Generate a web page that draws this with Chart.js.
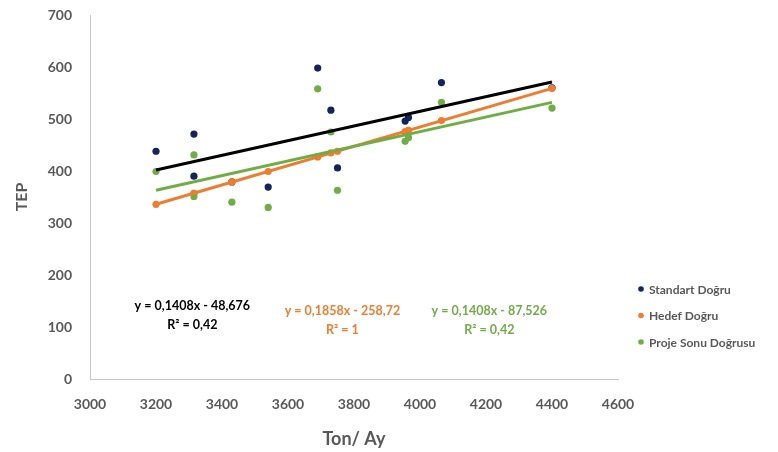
<!DOCTYPE html>
<html>
<head>
<meta charset="utf-8">
<script src="https://cdn.jsdelivr.net/npm/chart.js@4/dist/chart.umd.min.js"></script>
<style>
  html, body { margin: 0; padding: 0; background: #ffffff; }
  #wrap { width: 778px; height: 452px; position: relative; }
</style>
</head>
<body>
<div id="wrap"><canvas id="c" width="778" height="452"></canvas></div>
<script>
// ---- data ----
const seriesNames = ['Standart Doğru', 'Hedef Doğru', 'Proje Sonu Doğrusu'];
const xValues      = [3200, 3315, 3315, 3430, 3540, 3690, 3730, 3750, 3955, 3965, 4065, 4400];
const standartY    = [438, 471, 390, 379, 369, 598, 517, 406, 496, 503, 570, 560];
const hedefY       = [336, 357, 357, 379, 399, 427, 435, 438, 476, 478, 497, 559];
const projeY       = [399, 431, 351, 340, 330, 558, 475, 363, 457, 464, 532, 521];
// trend line end points (x range of the data)
const trendX        = [3200, 4400];
const trendStandart = [402, 571];
const trendHedef    = [336, 559];
const trendProje    = [363, 532];
// trend line labels
const eqStandart = ['y = 0,1408x - 48,676', 'R² = 0,42'];
const eqHedef    = ['y = 0,1858x - 258,72', 'R² = 1'];
const eqProje    = ['y = 0,1408x - 87,526', 'R² = 0,42'];
const eqAnchorX  = [3310, 3765, 4210];
const eqAnchorY  = [140, 130, 130];
const xTickMin = 3000, xTickMax = 4600, xStep = 200;
const yTickMin = 0, yTickMax = 700, yStep = 100;
const xTitle = 'Ton/ Ay';
const yTitle = 'TEP';

const colors = ['#13245a', '#ed7d31', '#70ad47'];
const trendColors = ['#000000', '#ed7d31', '#70ad47'];

const pts = (ys) => xValues.map((x, i) => ({ x: x, y: ys[i] }));
const tr = (ys) => trendX.map((x, i) => ({ x: x, y: ys[i] }));

const FONT = 'Lato, "Open Sans", sans-serif';

const overlayPlugin = {
  id: 'overlay',
  afterDraw(chart) {
    const ctx = chart.ctx;
    const xs = chart.scales.x, ys = chart.scales.y;
    ctx.save();
    // equations
    const eqs = [eqStandart, eqHedef, eqProje];
    ctx.font = 'bold 12.5px ' + FONT;
    ctx.textAlign = 'center';
    ctx.textBaseline = 'middle';
    eqs.forEach((lines, i) => {
      const cx = xs.getPixelForValue(eqAnchorX[i]);
      const cy = ys.getPixelForValue(eqAnchorY[i]);
      ctx.fillStyle = i === 0 ? '#000000' : trendColors[i];
      lines.forEach((t, j) => ctx.fillText(t, cx, cy + j * 19));
    });
    // legend
    const lx = chart.chartArea.right + 23;
    const ly0 = 289;
    ctx.font = 'bold 12px ' + FONT;
    ctx.textAlign = 'left';
    seriesNames.forEach((n, i) => {
      const y = ly0 + i * 26.5;
      ctx.beginPath();
      ctx.arc(lx, y, 2.8, 0, Math.PI * 2);
      ctx.fillStyle = colors[i];
      ctx.fill();
      ctx.fillStyle = '#595959';
      ctx.fillText(n, lx + 8, y + 1);
    });
    ctx.restore();
  }
};

const scatterDs = (label, ys, i, ord) => ({
  type: 'scatter', label: label, data: pts(ys),
  backgroundColor: colors[i], borderColor: colors[i],
  pointRadius: 3.6, pointBorderWidth: 0, order: ord
});
const trendDs = (ys, i, ord) => ({
  type: 'line', label: 'trend' + i, data: tr(ys),
  borderColor: trendColors[i], borderWidth: 3, pointRadius: 0,
  fill: false, tension: 0, order: ord
});

const plainTick = (v) => String(v);

new Chart(document.getElementById('c'), {
  type: 'scatter',
  data: {
    datasets: [
      scatterDs(seriesNames[0], standartY, 0, 6),
      scatterDs(seriesNames[1], hedefY, 1, 5),
      scatterDs(seriesNames[2], projeY, 2, 4),
      trendDs(trendStandart, 0, 3),
      trendDs(trendHedef, 1, 2),
      trendDs(trendProje, 2, 1)
    ]
  },
  options: {
    responsive: false,
    animation: false,
    events: [],
    layout: { padding: { top: 15, right: 160, bottom: 2, left: 12 } },
    plugins: { legend: { display: false }, tooltip: { enabled: false } },
    scales: {
      x: {
        type: 'linear', min: xTickMin, max: xTickMax,
        grid: { display: false, drawTicks: false },
        border: { display: true, color: '#c8c8c8', width: 1 },
        ticks: { stepSize: xStep, padding: 17, color: '#595959', callback: plainTick,
                 font: { family: FONT, size: 14, weight: 'bold' } },
        title: { display: true, text: xTitle, color: '#595959',
                 font: { family: FONT, size: 18, weight: 'bold' }, padding: 0 },
        afterFit(s) { s.height = 71; s.paddingLeft = 0; s.paddingRight = 0; }
      },
      y: {
        min: yTickMin, max: yTickMax,
        grid: { display: false, drawTicks: false },
        border: { display: true, color: '#c8c8c8', width: 1 },
        ticks: { stepSize: yStep, padding: 18, color: '#595959', callback: plainTick,
                 font: { family: FONT, size: 14, weight: 'bold' } },
        title: { display: true, text: yTitle, color: '#595959',
                 font: { family: FONT, size: 16, weight: 'bold' }, padding: 0 },
        afterFit(s) { s.width = 78; s.paddingTop = 0; s.paddingBottom = 0; }
      }
    }
  },
  plugins: [overlayPlugin]
});
</script>
</body>
</html>
